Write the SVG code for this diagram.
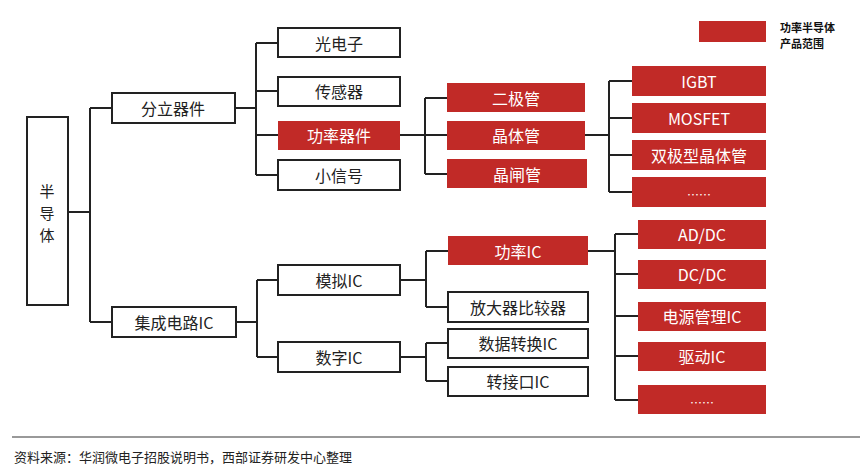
<svg xmlns="http://www.w3.org/2000/svg" width="865" height="469" viewBox="0 0 865 469">
<style>
.n rect{fill:#fff;stroke:#222;stroke-width:2}
.r rect{fill:#c12a27;stroke:none}
text{font-family:"Noto Sans CJK SC","Liberation Sans",sans-serif;font-size:16px;text-anchor:middle;dominant-baseline:central}
.n text{fill:#222}.r text{fill:#fff}
#conn path{fill:none;stroke:#222;stroke-width:2}
.v{font-size:15px}
</style>
<rect width="865" height="469" fill="#fff"/>
<g id="legend"><rect x="699" y="21" width="67" height="21" fill="#c12a27"/>
<text x="780" y="27" style="font-size:11px;font-weight:bold;text-anchor:start;fill:#111">功率半导体</text>
<text x="780" y="43" style="font-size:11px;font-weight:bold;text-anchor:start;fill:#111">产品范围</text></g>
<g id="conn">
<path d="M68 212H90M90 108V322M90 108H112M90 322H112"/>
<path d="M235 108H256M256 43V175M256 43H278M256 91H278M256 135H278M256 175H278"/>
<path d="M400 135H425M425 98V174M425 98H447M425 135H447M425 174H447"/>
<path d="M585 135H609M609 81V192M609 81H632M609 118H632M609 155H632M609 192H632"/>
<path d="M236 322H257M257 280V357M257 280H278M257 357H278"/>
<path d="M400 280H426M426 251V307M426 251H448M426 307H448"/>
<path d="M400 357H426M426 343V381M426 343H448M426 381H448"/>
<path d="M588 251H615M615 234V400M615 234H638M615 274H638M615 316H638M615 356H638M615 400H638"/>
</g>
<g id="n0" class="n"><rect x="27" y="117" width="41" height="188"/><text class="v" x="47" y="190">半</text><text class="v" x="47" y="212">导</text><text class="v" x="47" y="234">体</text></g>
<g id="n1" class="n"><rect x="112" y="93" width="123" height="30"/><text x="173" y="108">分立器件</text></g>
<g id="n2" class="n"><rect x="112" y="307" width="124" height="30"/><text x="174" y="322">集成电路IC</text></g>
<g id="n3" class="n"><rect x="278" y="28" width="122" height="29"/><text x="339" y="43">光电子</text></g>
<g id="n4" class="n"><rect x="278" y="77" width="122" height="29"/><text x="339" y="91">传感器</text></g>
<g id="n5" class="r"><rect x="278" y="121" width="122" height="29"/><text x="339" y="135">功率器件</text></g>
<g id="n6" class="n"><rect x="278" y="160" width="122" height="30"/><text x="339" y="175">小信号</text></g>
<g id="n7" class="r"><rect x="447" y="83" width="138" height="29"/><text x="516" y="98">二极管</text></g>
<g id="n8" class="r"><rect x="447" y="121" width="138" height="29"/><text x="516" y="135">晶体管</text></g>
<g id="n9" class="r"><rect x="447" y="159" width="140" height="29"/><text x="517" y="174">晶闸管</text></g>
<g id="n10" class="r"><rect x="632" y="66" width="134" height="30"/><text x="699" y="81">IGBT</text></g>
<g id="n11" class="r"><rect x="632" y="103" width="134" height="30"/><text x="699" y="118">MOSFET</text></g>
<g id="n12" class="r"><rect x="632" y="140" width="134" height="30"/><text x="699" y="155">双极型晶体管</text></g>
<g id="n13" class="r"><rect x="632" y="177" width="134" height="30"/><text x="699" y="194" style="font-size:12px">……</text></g>
<g id="n14" class="n"><rect x="278" y="265" width="122" height="30"/><text x="339" y="280">模拟IC</text></g>
<g id="n15" class="n"><rect x="278" y="342" width="122" height="30"/><text x="339" y="357">数字IC</text></g>
<g id="n16" class="r"><rect x="448" y="236" width="140" height="29"/><text x="518" y="251">功率IC</text></g>
<g id="n17" class="n"><rect x="448" y="292" width="140" height="30"/><text x="518" y="307">放大器比较器</text></g>
<g id="n18" class="n"><rect x="448" y="329" width="140" height="29"/><text x="518" y="343">数据转换IC</text></g>
<g id="n19" class="n"><rect x="448" y="367" width="140" height="29"/><text x="518" y="381">转接口IC</text></g>
<g id="n20" class="r"><rect x="638" y="220" width="128" height="29"/><text x="702" y="234">AD/DC</text></g>
<g id="n21" class="r"><rect x="638" y="260" width="128" height="29"/><text x="702" y="274">DC/DC</text></g>
<g id="n22" class="r"><rect x="638" y="302" width="128" height="29"/><text x="702" y="316">电源管理IC</text></g>
<g id="n23" class="r"><rect x="638" y="342" width="128" height="29"/><text x="702" y="356">驱动IC</text></g>
<g id="n24" class="r"><rect x="638" y="385" width="128" height="29"/><text x="702" y="402" style="font-size:12px">……</text></g>
<line x1="12" y1="437" x2="860" y2="437" stroke="#999" stroke-width="2"/>
<text x="14" y="456" style="font-size:13px;text-anchor:start;fill:#222">资料来源：华润微电子招股说明书，西部证券研发中心整理</text>
</svg>
